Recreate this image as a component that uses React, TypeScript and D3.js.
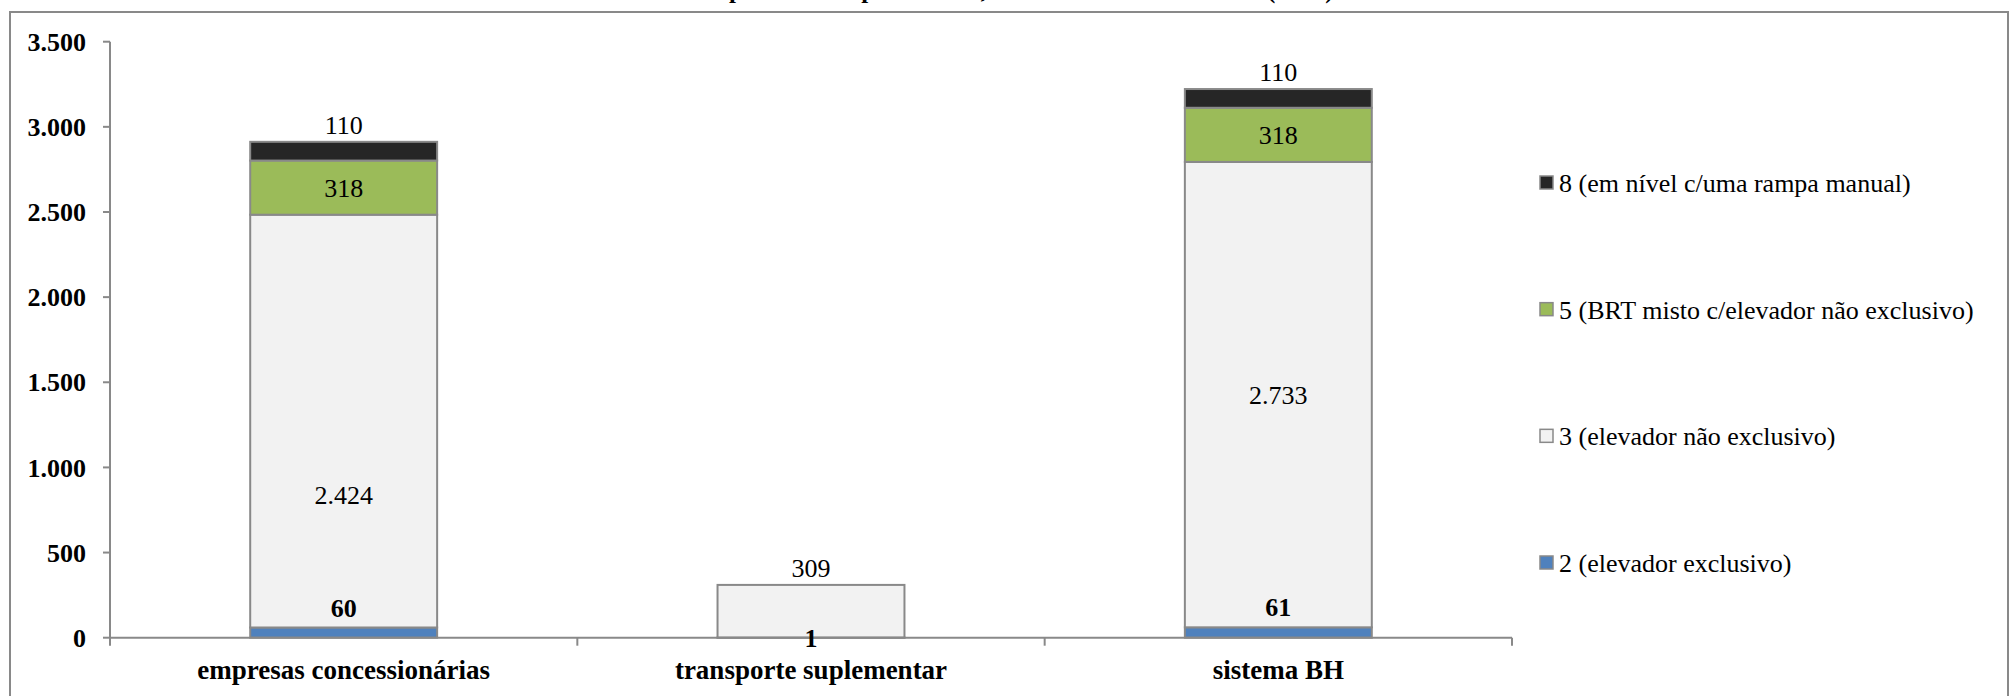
import React from "react";
import * as d3 from "d3";

const categories = ["empresas concessionárias", "transporte suplementar", "sistema BH"];
const seriesNames = [
  "2 (elevador exclusivo)",
  "3 (elevador não exclusivo)",
  "5 (BRT misto c/elevador não exclusivo)",
  "8 (em nível c/uma rampa manual)",
];
const s2 = [60, 1, 61];
const s3 = [2424, 309, 2733];
const s5 = [318, 0, 318];
const s8 = [110, 0, 110];
const yTicks = [0, 500, 1000, 1500, 2000, 2500, 3000, 3500];
const title = "Ônibus por nível de plataforma, frota total do sistema BH (2010)";

const colors = ["#4F81BD", "#F2F2F2", "#9BBB59", "#262626"];
const grayLabelFrac = [0.32, 0.5, 0.5];

const W = 2011;
const H = 696;
const FONT = "'Liberation Serif', 'Times New Roman', Times, serif";
const AXIS = "#898989";

const ptBR = d3.formatLocale({ decimal: ",", thousands: ".", grouping: [3], currency: ["R$", ""] });
const fmt = ptBR.format(",d");

export default function App() {
  const series = [s2, s3, s5, s8];
  const x = d3.scaleBand<string>().domain(categories).range([110, 1512]).paddingInner(0.6).paddingOuter(0.3);
  const y = d3.scaleLinear().domain([0, 3500]).range([637.7, 41.7]);
  const stackData = categories.map((c, i) => ({ c, v0: s2[i], v1: s3[i], v2: s5[i], v3: s8[i] }));
  const stack = d3.stack<any>().keys(["v0", "v1", "v2", "v3"])(stackData);
  const step = x.step();
  const boundaries = [0, 1, 2, 3].map((k) => 110 + k * step);
  const legendY = d3.scaleLinear().domain([0, 3]).range([183, 563]);

  const labels: any[] = [];
  categories.forEach((c, i) => {
    const cx = (x(c) as number) + x.bandwidth() / 2;
    let topIdx = -1;
    series.forEach((s, k) => { if (s[i] > 0) topIdx = k; });
    series.forEach((s, k) => {
      const v = s[i];
      if (v <= 0) return;
      const [a, b] = stack[k][i];
      let cy: number;
      let bold = false;
      if (k === topIdx && k !== 0) {
        cy = y(b) - 17;
      } else if (k === 0) {
        bold = true;
        const h = y(a) - y(b);
        cy = h > 4 ? y(b) - 20 : y(a);
      } else if (k === 1) {
        cy = y(a + (b - a) * grayLabelFrac[i]);
      } else {
        cy = y((a + b) / 2);
      }
      labels.push({ key: `${i}-${k}`, cx, cy, text: fmt(v), bold });
    });
  });

  return (
    <svg width={W} height={H} style={{ position: "absolute", left: 0, top: 0, background: "#fff" }} fontFamily={FONT}>
      <rect x={0} y={0} width={W} height={H} fill="#fff" />
      <text x={645} y={-2} fontSize={25} fontWeight="bold" fill="#000">{title}</text>
      <rect x={10} y={12} width={1998} height={720} fill="none" stroke={AXIS} strokeWidth={2} />

      {stack.map((layer, k) => (
        <g key={k}>
          {layer.map((d: any, i: number) => {
            const h = y(d[0]) - y(d[1]);
            if (h <= 0) return null;
            return (
              <rect key={i} x={x(categories[i])} y={y(d[1])} width={x.bandwidth()} height={h}
                fill={colors[k]} stroke={AXIS} strokeWidth={2} />
            );
          })}
        </g>
      ))}

      {/* y axis */}
      <line x1={110} x2={110} y1={y(3500)} y2={y(0)} stroke={AXIS} strokeWidth={2} />
      {yTicks.map((t) => (
        <g key={t}>
          <line x1={103} x2={110} y1={y(t)} y2={y(t)} stroke={AXIS} strokeWidth={2} />
          <text x={86} y={y(t)} dy="0.35em" textAnchor="end" fontSize={26} fontWeight="bold">{fmt(t)}</text>
        </g>
      ))}

      {/* x axis */}
      <line x1={110} x2={1512} y1={y(0)} y2={y(0)} stroke={AXIS} strokeWidth={2} />
      {boundaries.map((bx, k) => (
        <line key={k} x1={bx} x2={bx} y1={y(0)} y2={y(0) + 8} stroke={AXIS} strokeWidth={2} />
      ))}
      {categories.map((c) => (
        <text key={c} x={(x(c) as number) + x.bandwidth() / 2} y={670} dy="0.35em" textAnchor="middle"
          fontSize={27} fontWeight="bold">{c}</text>
      ))}

      {labels.map((l) => (
        <text key={l.key} x={l.cx} y={l.cy} dy="0.35em" textAnchor="middle" fontSize={26}
          fontWeight={l.bold ? "bold" : "normal"}>{l.text}</text>
      ))}

      {/* legend */}
      {[3, 2, 1, 0].map((k, j) => (
        <g key={k}>
          <rect x={1540} y={legendY(j) - 7} width={13} height={13} fill={colors[k]} stroke={AXIS} strokeWidth={1.5} />
          <text x={1559} y={legendY(j)} dy="0.35em" fontSize={26}>{seriesNames[k]}</text>
        </g>
      ))}
    </svg>
  );
}
